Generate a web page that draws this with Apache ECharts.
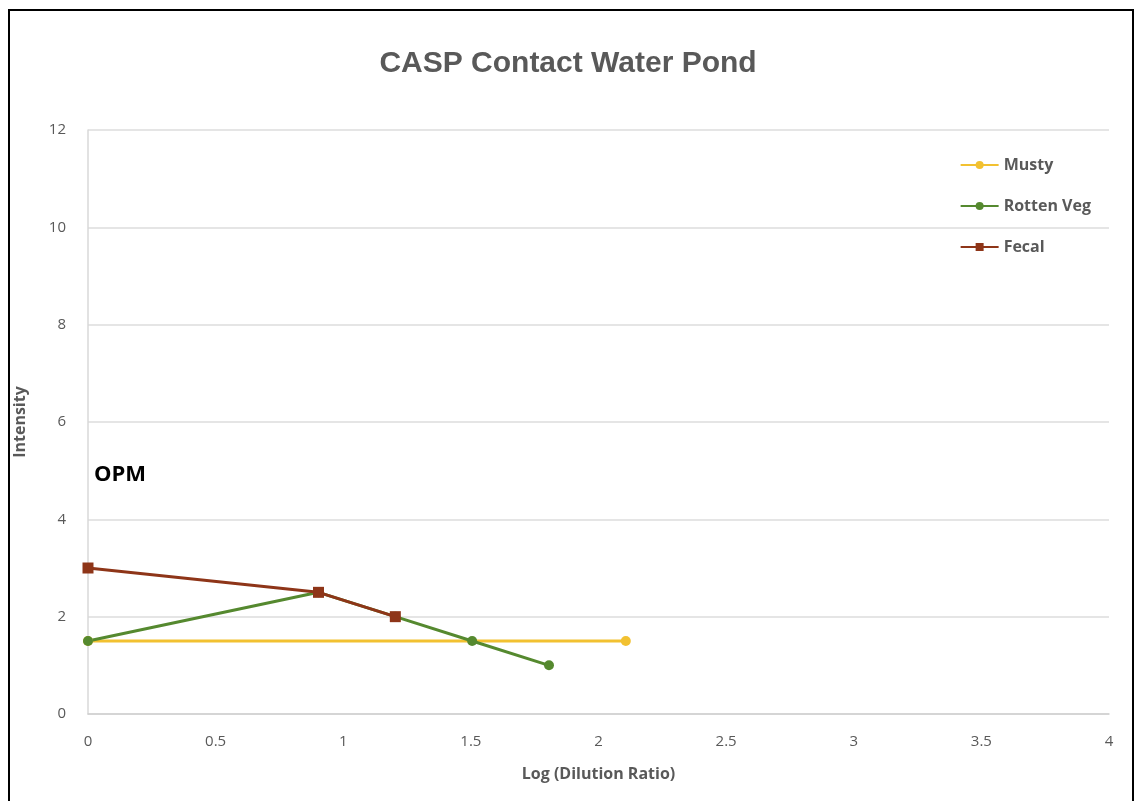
<!DOCTYPE html>
<html>
<head>
<meta charset="utf-8">
<title>CASP Contact Water Pond</title>
<script src="https://cdn.jsdelivr.net/npm/echarts@6/dist/echarts.min.js"></script>
<style>
  html, body { margin: 0; padding: 0; background: #fff; }
  #chart { width: 1136px; height: 801px; }
</style>
</head>
<body>
<div id="chart"></div>
<script>
// Data (x = log of dilution ratio)
const mustyX = [0, 2.107];
const mustyY = [1.5, 1.5];
const vegX = [0, 0.903, 1.204, 1.505, 1.806];
const vegY = [1.5, 2.5, 2.0, 1.5, 1.0];
const fecalX = [0, 0.903, 1.204];
const fecalY = [3, 2.5, 2.0];

const zipPts = (xs, ys) => xs.map((x, i) => [x, ys[i]]);

const chart = echarts.init(document.getElementById('chart'));

const axisFont = { color: '#595959', fontSize: 15, fontFamily: 'Open Sans' };

chart.setOption({
    animation: false,
    title: {
        text: 'CASP Contact Water Pond',
        left: 'center',
        top: 44,
        textStyle: { color: '#595959', fontSize: 30, fontWeight: 'bold', fontFamily: 'Liberation Sans' }
    },
    legend: {
        orient: 'vertical',
        right: 40,
        top: 152,
        itemGap: 25,
        itemWidth: 38,
        itemHeight: 10,
        textStyle: { color: '#595959', fontSize: 16, fontWeight: 'bold', fontFamily: 'Open Sans' },
        data: ['Musty', 'Rotten Veg', 'Fecal']
    },
    grid: { left: 88, right: 27, top: 130, bottom: 87 },
    xAxis: {
        type: 'value',
        min: 0, max: 4, interval: 0.5,
        name: 'Log (Dilution Ratio)',
        nameLocation: 'middle',
        nameGap: 52,
        nameTextStyle: { color: '#595959', fontSize: 16, fontWeight: 'bold', fontFamily: 'Open Sans' },
        axisLine: { show: true, lineStyle: { color: '#d0d0d0', width: 1.5 } },
        axisTick: { show: false },
        splitLine: { show: false },
        axisLabel: Object.assign({ margin: 20 }, axisFont)
    },
    yAxis: {
        type: 'value',
        min: 0, max: 12, interval: 2,
        name: 'Intensity',
        nameLocation: 'middle',
        nameGap: 60,
        nameTextStyle: { color: '#595959', fontSize: 16, fontWeight: 'bold', fontFamily: 'Open Sans' },
        axisLine: { show: true, lineStyle: { color: '#d9d9d9', width: 1.5 } },
        axisTick: { show: false },
        splitLine: { lineStyle: { color: '#dcdcdc', width: 1.5 } },
        axisLabel: Object.assign({ margin: 22 }, axisFont)
    },
    graphic: [
        {
            type: 'rect',
            shape: { x: 9, y: 10, width: 1124, height: 900 },
            style: { fill: 'none', stroke: '#000', lineWidth: 2 },
            silent: true
        },
        {
            type: 'text',
            left: 94,
            top: 464,
            style: { text: 'OPM', fill: '#000', fontSize: 22, fontWeight: 'bold', fontFamily: 'Open Sans' }
        }
    ],
    series: [
        {
            name: 'Musty',
            type: 'line',
            data: zipPts(mustyX, mustyY),
            symbol: 'circle',
            symbolSize: 10,
            lineStyle: { color: '#f2c131', width: 3 },
            itemStyle: { color: '#f2c131' }
        },
        {
            name: 'Rotten Veg',
            type: 'line',
            data: zipPts(vegX, vegY),
            symbol: 'circle',
            symbolSize: 10,
            lineStyle: { color: '#55892f', width: 3 },
            itemStyle: { color: '#55892f' }
        },
        {
            name: 'Fecal',
            type: 'line',
            data: zipPts(fecalX, fecalY),
            symbol: 'rect',
            symbolSize: 11,
            lineStyle: { color: '#8e3518', width: 3 },
            itemStyle: { color: '#8e3518' }
        }
    ]
});
</script>
</body>
</html>
